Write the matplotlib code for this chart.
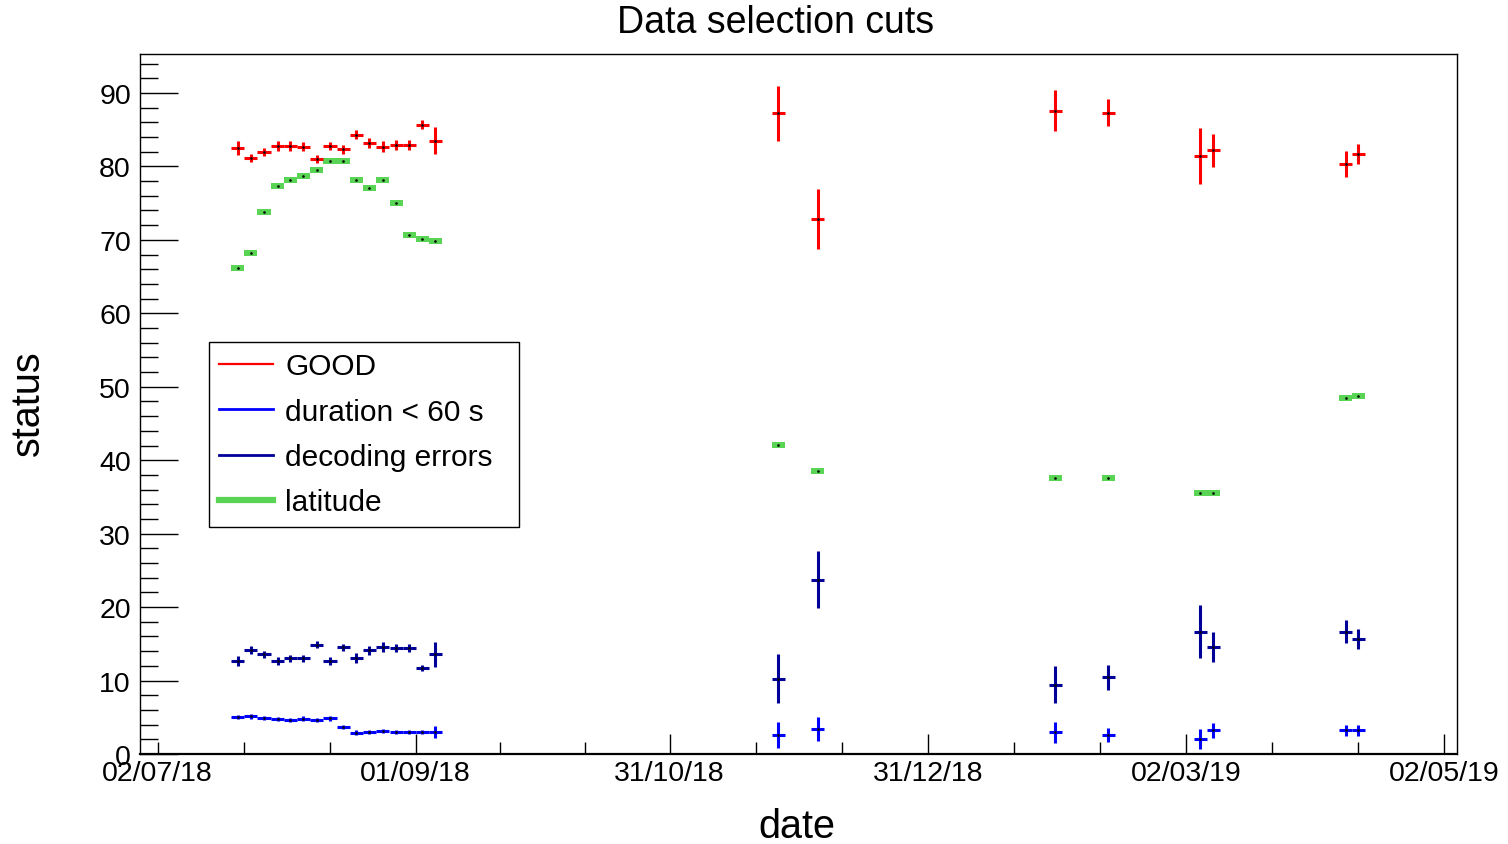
import numpy as np
import matplotlib
matplotlib.use("Agg")
import matplotlib.pyplot as plt
import matplotlib.dates as mdates
from matplotlib.lines import Line2D

plt.rcParams["font.family"] = ["Liberation Sans", "DejaVu Sans"]

# bin centres, in days after 02/07/18
START = "2018-07-02"
run_days = [18.9, 22.0, 25.15, 28.4, 31.35, 34.45, 37.65, 40.75, 43.9, 46.95,
            50.05, 53.2, 56.4, 59.5, 62.55, 65.65,
            146.7, 156.0, 212.2, 224.7, 246.4, 249.5, 280.8, 283.8]
BIN_HALF = 1.55  # days

good = [82.5, 81.1, 82.0, 82.8, 82.8, 82.7, 81.0, 82.8, 82.3, 84.3,
        83.2, 82.7, 82.9, 82.9, 85.7, 83.5,
        87.2, 72.9, 87.6, 87.3, 81.4, 82.2, 80.3, 81.7]
good_err = [0.9, 0.57, 0.52, 0.64, 0.64, 0.59, 0.54, 0.57, 0.66, 0.61,
            0.64, 0.77, 0.7, 0.7, 0.59, 1.82,
            3.74, 4.08, 2.74, 1.82, 3.81, 2.27, 1.77, 1.41]

short_dur = [5.04, 5.13, 4.94, 4.77, 4.63, 4.81, 4.67, 4.86, 3.68, 2.90,
             3.0, 3.17, 2.95, 2.95, 2.95, 2.95,
             2.63, 3.36, 2.95, 2.59, 2.04, 3.22, 3.22, 3.22]
short_dur_err = [0.3, 0.3, 0.3, 0.3, 0.25, 0.3, 0.25, 0.3, 0.3, 0.3,
                 0.3, 0.3, 0.25, 0.25, 0.25, 0.8,
                 1.75, 1.61, 1.45, 0.93, 1.36, 0.98, 0.77, 0.77]

decoding = [12.7, 14.16, 13.58, 12.66, 13.03, 13.03, 14.88, 12.66, 14.53, 13.03,
            14.12, 14.53, 14.43, 14.43, 11.71, 13.58,
            10.26, 23.74, 9.44, 10.44, 16.66, 14.53, 16.66, 15.66]
decoding_err = [0.68, 0.61, 0.48, 0.54, 0.48, 0.48, 0.45, 0.54, 0.48, 0.66,
                0.64, 0.68, 0.57, 0.57, 0.45, 1.7,
                3.38, 3.93, 2.5, 1.66, 3.65, 2.04, 1.59, 1.36]

latitude = [66.14, 68.22, 73.8, 77.34, 78.2, 78.7, 79.48, 80.71, 80.71, 78.2,
            77.07, 78.2, 75.07, 70.67, 70.13, 69.85,
            42.03, 38.53, 37.54, 37.54, 35.54, 35.54, 48.43, 48.7]
latitude_err = [0.4] * len(latitude)

tick_dates = ["2018-07-02", "2018-09-01", "2018-10-31",
              "2018-12-31", "2019-03-02", "2019-05-02"]

RED = "#ff0000"
BLUE = "#0000ff"
NAVY = "#000099"
GREEN = "#59d454"

W, H = 1508, 845
fig = plt.figure(figsize=(W / 100, H / 100), dpi=100)
ax = fig.add_axes([140 / W, 1 - 755 / H, (1457 - 140) / W, (755 - 55) / H])

t0 = mdates.date2num(np.datetime64(START))
x = t0 + np.asarray(run_days)

# latitude as filled error boxes
lat = np.asarray(latitude)
lat_e = np.asarray(latitude_err)
ax.bar(x, 2 * lat_e, width=2 * BIN_HALF, bottom=lat - lat_e,
       color=GREEN, linewidth=0, zorder=2)
ax.plot(x, lat, "s", ms=0.8, color="black", zorder=2.5)

series = [(good, good_err, RED), (short_dur, short_dur_err, BLUE),
          (decoding, decoding_err, NAVY)]
for vals, errs, col in series:
    ax.errorbar(x, vals, xerr=BIN_HALF, yerr=errs, fmt="none",
                ecolor=col, elinewidth=2.2, capsize=0, zorder=3)
    ax.plot(x, vals, "s", ms=0.8, color="black", zorder=3.5)

# axes
ax.set_xlim(t0 - 4.16, t0 + 307.1)
ax.set_ylim(0, 95.3)

major = mdates.date2num(np.array(tick_dates, dtype="datetime64[D]"))
minor = []
for a, b in zip(major[:-1], major[1:]):
    minor += [a + (b - a) / 3, a + 2 * (b - a) / 3]
ax.set_xticks(major)
ax.set_xticks(minor, minor=True)
ax.xaxis.set_major_formatter(mdates.DateFormatter("%d/%m/%y"))
ax.set_yticks(np.arange(0, 91, 10))
ax.set_yticks(np.arange(0, 95, 2), minor=True)

ax.tick_params(axis="both", which="both", direction="in",
               top=False, right=False, labelsize=20.5, width=1.0)
ax.tick_params(axis="x", which="major", length=14.4, pad=4)
ax.tick_params(axis="x", which="minor", length=8.6)
ax.tick_params(axis="y", which="major", length=27.4, pad=6.5)
ax.tick_params(axis="y", which="minor", length=13)
# the first date tick is drawn short
ax.xaxis.get_major_ticks()[0].tick1line.set_markersize(8.6)

for side in ["left", "top", "right"]:
    ax.spines[side].set_linewidth(1.0)
ax.spines["bottom"].set_linewidth(1.6)

ax.set_xlabel("date", fontsize=28.5, va="center")
ax.xaxis.set_label_coords((797 - 140) / 1317, (755 - 827) / 700)
ax.set_ylabel("status", fontsize=28.5, va="center", ha="center")
ax.yaxis.set_label_coords((28 - 140) / 1317, (755 - 403) / 700)

fig.text(776 / W, 1 - 23 / H, "Data selection cuts", fontsize=27,
         ha="center", va="center")

handles = [
    Line2D([], [], color=RED, lw=1.6),
    Line2D([], [], color=BLUE, lw=2.0),
    Line2D([], [], color=NAVY, lw=2.0),
    Line2D([], [], color=GREEN, lw=4.5),
]
labels = ["GOOD", "duration < 60 s", "decoding errors", "latitude"]
leg = ax.legend(handles, labels, loc="upper left", mode="expand",
                bbox_to_anchor=(209 / W, 1 - 524 / H, 310 / W, 181 / H),
                bbox_transform=fig.transFigure, borderaxespad=0,
                fontsize=21.5, frameon=True, fancybox=False,
                edgecolor="black", framealpha=1, handlelength=1.8,
                handletextpad=0.4, borderpad=0.35, labelspacing=0.58)
leg.get_frame().set_linewidth(1.0)

fig.savefig("out.png", dpi=100)
